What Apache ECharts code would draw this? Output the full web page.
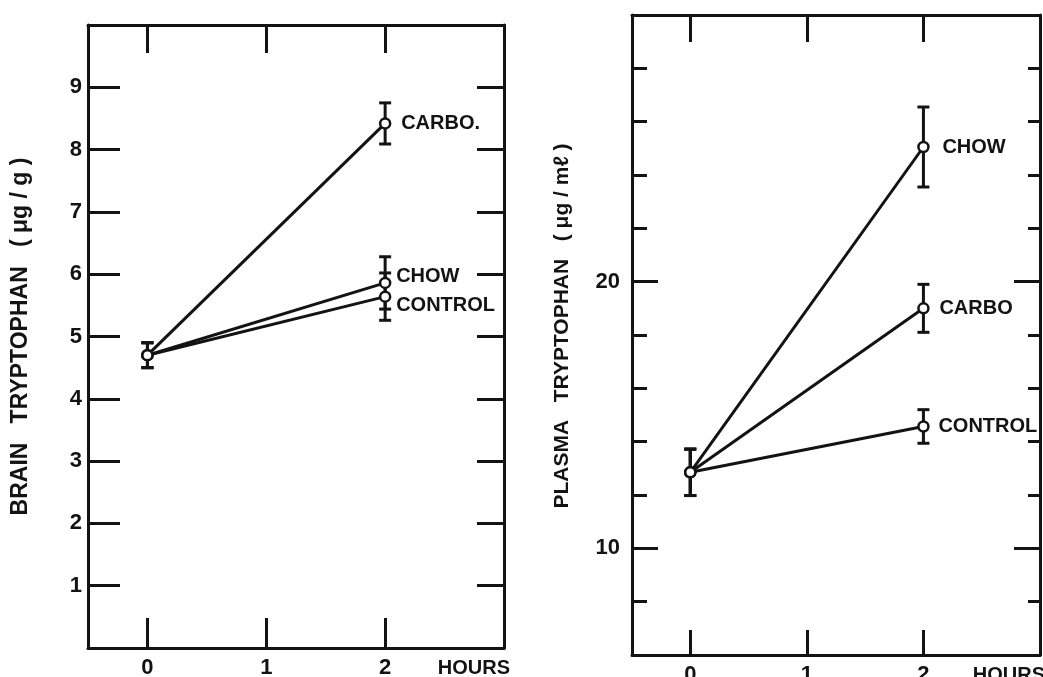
<!DOCTYPE html>
<html>
<head>
<meta charset="utf-8">
<script src="https://cdn.jsdelivr.net/npm/echarts@6/dist/echarts.min.js"></script>
<style>
html,body{margin:0;padding:0;background:#fff;}
#chart{width:1043px;height:677px;}
</style>
</head>
<body>
<div id="chart"></div>
<script>
// ---- data ----
const hours = [0, 2];
const brainCarbo = [4.7, 8.42];
const brainCarboErr = [0.2, 0.33];
const brainChow = [4.7, 5.86];
const brainChowErr = [0.2, 0.42];
const brainControl = [4.7, 5.64];
const brainControlErr = [0.2, 0.38];

const plasmaChow = [12.85, 25.05];
const plasmaChowErr = [0.87, 1.5];
const plasmaCarbo = [12.85, 19.0];
const plasmaCarboErr = [0.87, 0.9];
const plasmaControl = [12.85, 14.57];
const plasmaControlErr = [0.87, 0.63];

const hourTicks = [0, 1, 2];
const brainTicks = [1, 2, 3, 4, 5, 6, 7, 8, 9];
const plasmaLabels = [10, 20];

const brainTitle = 'BRAIN   TRYPTOPHAN   ( μg / g )';
const plasmaTitle = 'PLASMA   TRYPTOPHAN   ( μg / mℓ )';
const hoursName = 'HOURS';

// ---- styling ----
const INK = '#131313';
const FONT = "'Liberation Sans', Arial, sans-serif";
const txt = {color: INK, fontFamily: FONT, fontWeight: 'bold', fontSize: 20};
const tickTxt = Object.assign({}, txt, {fontSize: 22});

function pts(xs, ys) { return xs.map((x, i) => [x, ys[i]]); }
function errPts(xs, ys, es) { return xs.map((x, i) => [x, ys[i], es[i]]); }

function errRender(params, api) {
  const x = api.value(0), y = api.value(1), e = api.value(2);
  const top = api.coord([x, y + e]);
  const bot = api.coord([x, y - e]);
  const h = 6;
  const st = {stroke: INK, lineWidth: 3};
  return {
    type: 'group',
    children: [
      {type: 'line', shape: {x1: top[0], y1: top[1], x2: bot[0], y2: bot[1]}, style: st},
      {type: 'line', shape: {x1: top[0] - h, y1: top[1], x2: top[0] + h, y2: top[1]}, style: st},
      {type: 'line', shape: {x1: bot[0] - h, y1: bot[1], x2: bot[0] + h, y2: bot[1]}, style: st}
    ]
  };
}

function lineSeries(name, label, xi, yi, ys, dist, dy) {
  return {
    type: 'line', name: name, xAxisIndex: xi, yAxisIndex: yi,
    data: pts(hours, ys),
    symbol: 'circle', symbolSize: 10,
    itemStyle: {color: '#fff', borderColor: INK, borderWidth: 2.5},
    lineStyle: {color: INK, width: 3},
    z: 5,
    endLabel: Object.assign({show: true, formatter: label, distance: dist, offset: [0, dy]}, txt),
    animation: false
  };
}

function errSeries(xi, yi, ys, es) {
  return {
    type: 'custom', xAxisIndex: xi, yAxisIndex: yi,
    data: errPts(hours, ys, es), renderItem: errRender, z: 3, animation: false
  };
}

const axLine = {show: true, onZero: false, lineStyle: {color: INK, width: 3}};
const hiddenLine = {show: false, onZero: false};
const noSplit = {show: false};

const option = {
  backgroundColor: '#fff',
  animation: false,
  grid: [
    {left: 88, top: 25, width: 416, height: 623, outerBoundsMode: 'none', containLabel: false},
    {left: 632, top: 15, width: 408, height: 640, outerBoundsMode: 'none', containLabel: false}
  ],
  xAxis: [
    {gridIndex: 0, type: 'value', min: -0.5, max: 3, position: 'bottom',
     axisLine: axLine, splitLine: noSplit,
     axisTick: {show: true, inside: true, length: 30, customValues: hourTicks, lineStyle: {color: INK, width: 3}},
     axisLabel: Object.assign({show: true, margin: 9, customValues: hourTicks}, tickTxt),
     name: hoursName, nameLocation: 'end', nameGap: 6,
     nameTextStyle: Object.assign({align: 'right', verticalAlign: 'top', padding: [10, 0, 0, 0]}, txt)},
    {gridIndex: 0, type: 'value', min: -0.5, max: 3, position: 'top',
     axisLine: axLine, splitLine: noSplit,
     axisTick: {show: true, inside: true, length: 28, customValues: hourTicks, lineStyle: {color: INK, width: 3}},
     axisLabel: {show: false}},
    {gridIndex: 1, type: 'value', min: -0.5, max: 3, position: 'bottom',
     axisLine: axLine, splitLine: noSplit,
     axisTick: {show: true, inside: true, length: 25, customValues: hourTicks, lineStyle: {color: INK, width: 3}},
     axisLabel: Object.assign({show: true, margin: 9, customValues: hourTicks}, tickTxt),
     name: hoursName, nameLocation: 'end', nameGap: 5,
     nameTextStyle: Object.assign({align: 'right', verticalAlign: 'top', padding: [10, 0, 0, 0]}, txt)},
    {gridIndex: 1, type: 'value', min: -0.5, max: 3, position: 'top',
     axisLine: axLine, splitLine: noSplit,
     axisTick: {show: true, inside: true, length: 27, customValues: hourTicks, lineStyle: {color: INK, width: 3}},
     axisLabel: {show: false}}
  ],
  yAxis: [
    {gridIndex: 0, type: 'value', min: 0, max: 10, interval: 1, position: 'left',
     axisLine: axLine, splitLine: noSplit,
     axisTick: {show: true, inside: true, length: 32, customValues: brainTicks, lineStyle: {color: INK, width: 3}},
     axisLabel: Object.assign({show: true, margin: 6, customValues: brainTicks}, tickTxt),
     name: brainTitle, nameLocation: 'middle', nameGap: 56,
     nameTextStyle: Object.assign({}, txt, {fontSize: 23})},
    {gridIndex: 0, type: 'value', min: 0, max: 10, interval: 1, position: 'right',
     axisLine: axLine, splitLine: noSplit,
     axisTick: {show: true, inside: true, length: 27, customValues: brainTicks, lineStyle: {color: INK, width: 3}},
     axisLabel: {show: false}},
    {gridIndex: 1, type: 'value', min: 6, max: 30, interval: 2, position: 'left',
     axisLine: axLine, splitLine: noSplit,
     axisTick: {show: true, inside: true, length: 15, lineStyle: {color: INK, width: 3}},
     axisLabel: Object.assign({show: true, margin: 12, customValues: plasmaLabels}, tickTxt),
     name: plasmaTitle, nameLocation: 'middle', nameGap: 59,
     nameTextStyle: Object.assign({}, txt, {fontSize: 21, padding: [0, 0, 0, 18]})},
    {gridIndex: 1, type: 'value', min: 6, max: 30, interval: 2, position: 'left', offset: 0,
     axisLine: hiddenLine, splitLine: noSplit,
     axisTick: {show: true, inside: true, length: 26, customValues: plasmaLabels, lineStyle: {color: INK, width: 3}},
     axisLabel: {show: false}},
    {gridIndex: 1, type: 'value', min: 6, max: 30, interval: 2, position: 'right',
     axisLine: axLine, splitLine: noSplit,
     axisTick: {show: true, inside: true, length: 12, lineStyle: {color: INK, width: 3}},
     axisLabel: {show: false}},
    {gridIndex: 1, type: 'value', min: 6, max: 30, interval: 2, position: 'right', offset: 0,
     axisLine: hiddenLine, splitLine: noSplit,
     axisTick: {show: true, inside: true, length: 26, customValues: plasmaLabels, lineStyle: {color: INK, width: 3}},
     axisLabel: {show: false}}
  ],
  series: [
    errSeries(0, 0, brainCarbo, brainCarboErr),
    errSeries(0, 0, brainChow, brainChowErr),
    errSeries(0, 0, brainControl, brainControlErr),
    lineSeries('brainCarbo', 'CARBO.', 0, 0, brainCarbo, 16, 0),
    lineSeries('brainChow', 'CHOW', 0, 0, brainChow, 11, -6),
    lineSeries('brainControl', 'CONTROL', 0, 0, brainControl, 11, 9),
    errSeries(2, 2, plasmaChow, plasmaChowErr),
    errSeries(2, 2, plasmaCarbo, plasmaCarboErr),
    errSeries(2, 2, plasmaControl, plasmaControlErr),
    lineSeries('plasmaChow', 'CHOW', 2, 2, plasmaChow, 19, 0),
    lineSeries('plasmaCarbo', 'CARBO', 2, 2, plasmaCarbo, 16, 0),
    lineSeries('plasmaControl', 'CONTROL', 2, 2, plasmaControl, 15, 0)
  ]
};

const chart = echarts.init(document.getElementById('chart'), null, {renderer: 'canvas'});
chart.setOption(option);
</script>
</body>
</html>
